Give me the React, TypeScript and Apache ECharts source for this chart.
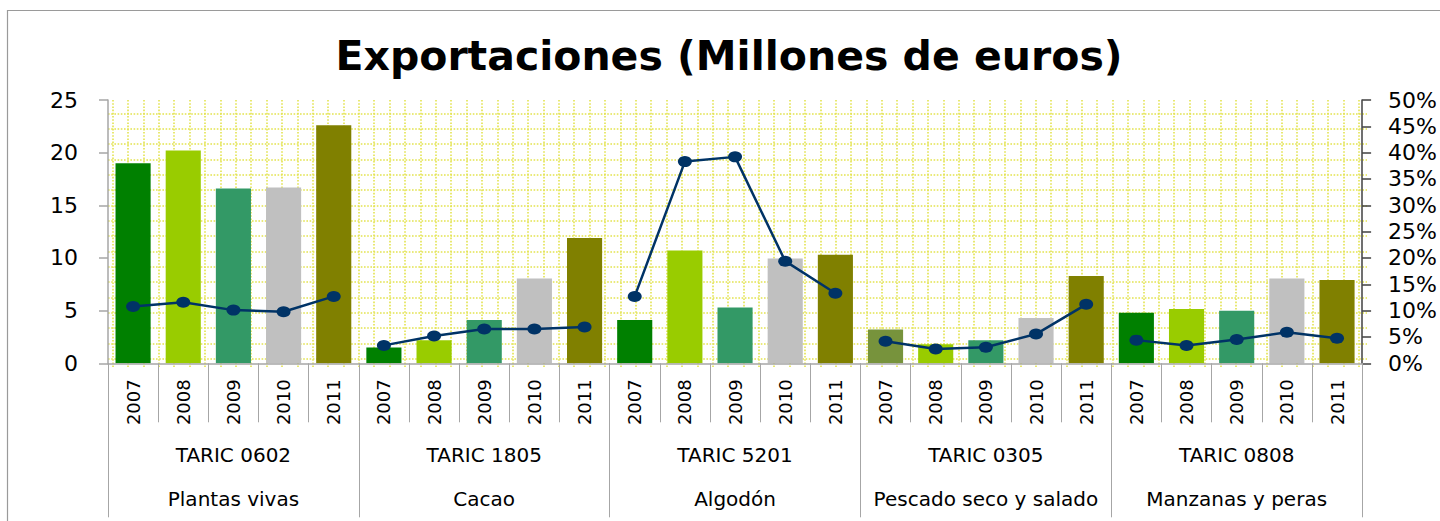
import React, { useEffect, useRef } from "react";
import * as echarts from "echarts";

const years = ["2007", "2008", "2009", "2010", "2011"];
const groupCodes = ["TARIC 0602", "TARIC 1805", "TARIC 5201", "TARIC 0305", "TARIC 0808"];
const groupNames = ["Plantas vivas", "Cacao", "Algodón", "Pescado seco y salado", "Manzanas y peras"];

// Exportaciones (millones de euros), per group, 2007..2011
const exportsPlantas = [19.0, 20.2, 16.6, 16.7, 22.6];
const exportsCacao = [1.5, 2.2, 4.1, 8.05, 11.9];
const exportsAlgodon = [4.1, 10.7, 5.3, 9.95, 10.3];
const exportsPescado = [3.2, 1.8, 2.2, 4.3, 8.3];
const exportsManzanas = [4.8, 5.15, 5.0, 8.05, 7.9];

// Share (right axis), per group, 2007..2011
const sharePlantas = [0.108, 0.116, 0.101, 0.098, 0.127];
const shareCacao = [0.034, 0.052, 0.065, 0.065, 0.069];
const shareAlgodon = [0.127, 0.383, 0.392, 0.194, 0.133];
const sharePescado = [0.042, 0.027, 0.0305, 0.0555, 0.112];
const shareManzanas = [0.044, 0.034, 0.045, 0.059, 0.0475];

const yearColors = ["#008000", "#99cc00", "#339966", "#c0c0c0", "#808000"];
// group index 3 (Pescado), year 2007 uses a different green
const specialColor = { group: 3, year: 0, color: "#77933c" };

const leftTicks = { min: 0, max: 25, interval: 5 };
const rightTicks = { min: 0, max: 0.5, interval: 0.05 };

const exportsByGroup = [exportsPlantas, exportsCacao, exportsAlgodon, exportsPescado, exportsManzanas];
const shareByGroup = [sharePlantas, shareCacao, shareAlgodon, sharePescado, shareManzanas];

export default function App() {
  const ref = useRef<HTMLDivElement>(null);

  useEffect(() => {
    if (!ref.current) return;
    const chart = echarts.init(ref.current, null, { renderer: "svg" });

    const yearCats: string[] = [];
    groupCodes.forEach(() => years.forEach((y) => yearCats.push(y)));

    const barData: any[] = [];
    exportsByGroup.forEach((arr, g) =>
      arr.forEach((v, i) => {
        const color =
          g === specialColor.group && i === specialColor.year ? specialColor.color : yearColors[i];
        barData.push({ value: v, itemStyle: { color } });
      })
    );

    const lineSeries = shareByGroup.map((arr, g) => {
      const data: (number | null)[] = new Array(yearCats.length).fill(null);
      arr.forEach((v, i) => {
        data[g * years.length + i] = v;
      });
      return {
        type: "line",
        name: groupCodes[g],
        xAxisIndex: 0,
        yAxisIndex: 1,
        data,
        connectNulls: false,
        symbol: "circle",
        symbolSize: [14, 11],
        lineStyle: { color: "#003366", width: 2.5 },
        itemStyle: { color: "#003366" },
        z: 5,
      };
    });

    const L = 108;
    const R = 73;
    const T = 100;
    const B = 154;
    const dotColor = "#e3e34f";
    const vStep = 15.383;
    const hStep = 15.35;
    const vLeft = 112.7 - vStep;
    const hTop = 113.3 - hStep;
    const dotStyle = { color: dotColor, width: 1.6, type: [1.6, 1.6] };

    const font = "DejaVu Sans";

    const option: any = {
      animation: false,
      backgroundColor: "#ffffff",
      textStyle: { fontFamily: font },
      grid: [
        { left: L, right: R, top: T, bottom: B, containLabel: false },
        { left: vLeft, right: R, top: T, bottom: B, containLabel: false },
        { left: L, right: R, top: hTop, bottom: B, containLabel: false },
      ],
      xAxis: [
        {
          type: "category",
          gridIndex: 0,
          data: yearCats,
          boundaryGap: true,
          axisLine: { show: true, lineStyle: { color: "#a6a6a6", width: 1.5 } },
          axisTick: { show: true, interval: 0, length: 59, lineStyle: { color: "#a6a6a6" } },
          axisLabel: {
            interval: 0,
            rotate: 90,
            margin: 16,
            fontSize: 18,
            color: "#000",
            fontFamily: font,
          },
          splitLine: { show: false },
          z: 3,
        },
        {
          type: "category",
          gridIndex: 0,
          position: "bottom",
          data: groupCodes.map((c, i) => c + "\n" + groupNames[i]),
          boundaryGap: true,
          axisLine: { show: false },
          axisTick: { show: true, interval: 0, length: 154, lineStyle: { color: "#a6a6a6" } },
          axisLabel: {
            interval: 0,
            margin: 69.7,
            fontSize: 20,
            lineHeight: 44,
            color: "#000",
            fontFamily: font,
          },
          splitLine: { show: false },
        },
        {
          type: "value",
          gridIndex: 1,
          min: 0,
          max: 1440 - R - vLeft,
          interval: vStep,
          axisLine: { show: false },
          axisTick: { show: false },
          axisLabel: { show: false },
          splitLine: {
            show: true,
            showMinLine: false,
            showMaxLine: false,
            lineStyle: dotStyle,
          },
        },
        {
          type: "value",
          gridIndex: 2,
          min: 0,
          max: 1,
          show: false,
          splitLine: { show: false },
        },
      ],
      yAxis: [
        {
          type: "value",
          gridIndex: 0,
          position: "left",
          min: leftTicks.min,
          max: leftTicks.max,
          interval: leftTicks.interval,
          axisLine: { show: true, lineStyle: { color: "#a6a6a6", width: 1.5 } },
          axisTick: { show: true, length: 9, lineStyle: { color: "#a6a6a6", width: 1.5 } },
          axisLabel: { margin: 30, fontSize: 22, color: "#000", fontFamily: font },
          splitLine: { show: false },
        },
        {
          type: "value",
          gridIndex: 0,
          position: "right",
          min: rightTicks.min,
          max: rightTicks.max,
          interval: rightTicks.interval,
          axisLine: { show: true, lineStyle: { color: "#404040", width: 1.5 } },
          axisTick: { show: true, length: 9, lineStyle: { color: "#404040", width: 1.5 } },
          axisLabel: {
            margin: 26,
            fontSize: 22,
            color: "#000",
            fontFamily: font,
            formatter: (v: number) => Math.round(v * 100) + "%",
          },
          splitLine: { show: false },
        },
        {
          type: "value",
          gridIndex: 1,
          min: 0,
          max: 1,
          show: false,
          splitLine: { show: false },
        },
        {
          type: "value",
          gridIndex: 2,
          inverse: true,
          min: 0,
          max: 521 - B - hTop,
          interval: hStep,
          axisLine: { show: false },
          axisTick: { show: false },
          axisLabel: { show: false },
          splitLine: {
            show: true,
            showMinLine: false,
            showMaxLine: false,
            lineStyle: dotStyle,
          },
        },
      ],
      series: [
        {
          type: "bar",
          name: "Exportaciones",
          xAxisIndex: 0,
          yAxisIndex: 0,
          barWidth: "70%",
          data: barData,
          z: 2,
        },
        ...lineSeries,
      ],
      graphic: [
        {
          type: "rect",
          silent: true,
          z: -10,
          shape: { x: 7.5, y: 10.5, width: 1500, height: 700 },
          style: { fill: "none", stroke: "#9a9a9a", lineWidth: 1.2 },
        },
        {
          type: "text",
          x: 729,
          y: 56,
          style: {
            text: "Exportaciones (Millones de euros)",
            font: 'bold 41px "DejaVu Sans"',
            fill: "#000",
            align: "center",
            verticalAlign: "middle",
            textAlign: "center",
            textVerticalAlign: "middle",
          },
        },
      ],
    };

    chart.setOption(option);
    return () => chart.dispose();
  }, []);

  return (
    <div
      ref={ref}
      style={{ position: "absolute", left: 0, top: 0, width: 1440, height: 521 }}
    />
  );
}
